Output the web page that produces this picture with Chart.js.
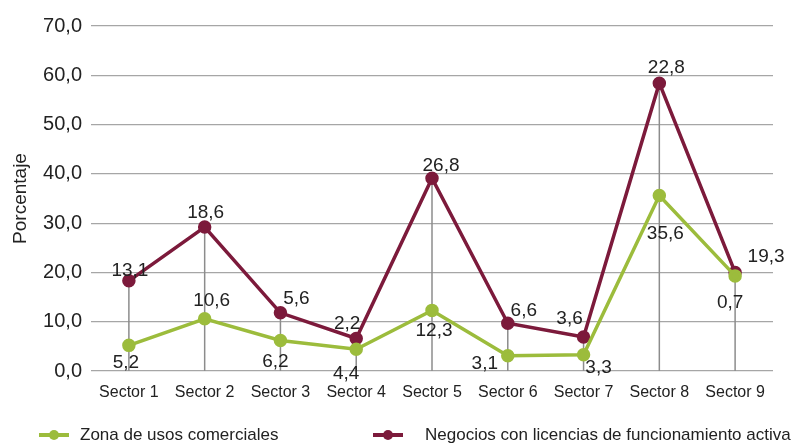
<!DOCTYPE html>
<html>
<head>
<meta charset="utf-8">
<script src="https://cdn.jsdelivr.net/npm/chart.js@4.4.0/dist/chart.umd.min.js"></script>
<style>
    body { margin: 0; background: #fff; }
    #wrap { position: relative; width: 793px; height: 446px; }
    #legend { position: absolute; left: 0; top: 424px; width: 793px; height: 22px;
        font-family: "Liberation Sans", Arial, sans-serif; font-size: 17px; color: #222; }
    .item { position: absolute; top: 0; height: 22px; line-height: 22px; white-space: nowrap; }
    .mark { position: absolute; top: 9px; width: 30px; height: 4px; }
    .mark span { position: absolute; left: 10px; top: -3px; width: 10px; height: 10px; border-radius: 50%; }
</style>
</head>
<body>
<div id="wrap">
    <canvas id="chart" width="793" height="446"></canvas>
    <div id="legend">
        <div class="mark" style="left:39px;background:#9cbc3c"><span style="background:#9cbc3c"></span></div>
        <div class="item" style="left:80px">Zona de usos comerciales</div>
        <div class="mark" style="left:373px;background:#7c1a3b"><span style="background:#7c1a3b"></span></div>
        <div class="item" style="left:425px">Negocios con licencias de funcionamiento activa</div>
    </div>
</div>
<script>
//Data
let sectors = ['Sector 1', 'Sector 2', 'Sector 3', 'Sector 4', 'Sector 5', 'Sector 6', 'Sector 7', 'Sector 8', 'Sector 9'];
let zonaComercial = [5.2, 10.6, 6.2, 4.4, 12.3, 3.1, 3.3, 35.6, 19.3];
let negociosActivos = [13.1, 18.6, 5.6, 2.2, 26.8, 6.6, 3.6, 22.8, 0.7];

//Colors
let green = '#9cbc3c';
let maroon = '#7c1a3b';

//label offsets (px) from each point, per dataset
let labelOffsets = [
    {dx: [-3, 7, -5, -10, 2, -23, 15, 6, 31], dy: [17, -18, 21, 24, 20, 8, 13, 38, -19]},
    {dx: [1, 1, 16, -9, 9, 16, -14, 7, -5], dy: [-10, -14, -14, -15, -13, -12, -18, -15, 30]}
];

function fmt(v) {
    return v.toFixed(1).replace('.', ',');
}

// grey drop lines from the highest point down to the axis
const dropLines = {
    id: 'dropLines',
    beforeDatasetsDraw(chart) {
        let ctx = chart.ctx;
        let bottom = chart.chartArea.bottom;
        let metas = [chart.getDatasetMeta(0), chart.getDatasetMeta(1)];
        ctx.save();
        ctx.strokeStyle = '#8c8c8c';
        ctx.lineWidth = 1.5;
        metas[0].data.forEach(function (pt, i) {
            let top = Math.min(pt.y, metas[1].data[i].y);
            ctx.beginPath();
            ctx.moveTo(pt.x, top);
            ctx.lineTo(pt.x, bottom);
            ctx.stroke();
        });
        ctx.restore();
    }
};

const valueLabels = {
    id: 'valueLabels',
    afterDatasetsDraw(chart) {
        let ctx = chart.ctx;
        ctx.save();
        ctx.font = '19px "Liberation Sans", Arial, sans-serif';
        ctx.fillStyle = '#222';
        ctx.textAlign = 'center';
        ctx.textBaseline = 'middle';
        chart.data.datasets.forEach(function (ds, d) {
            chart.getDatasetMeta(d).data.forEach(function (pt, i) {
                let off = labelOffsets[d];
                ctx.fillText(fmt(ds.data[i]), pt.x + off.dx[i], pt.y + off.dy[i]);
            });
        });
        ctx.restore();
    }
};

new Chart(document.getElementById('chart').getContext('2d'), {
    type: 'line',
    data: {
        labels: sectors,
        datasets: [{
            label: 'Zona de usos comerciales',
            data: zonaComercial,
            borderColor: green,
            backgroundColor: green,
            borderWidth: 3.5,
            pointRadius: 5,
            pointHoverRadius: 5,
            tension: 0
        }, {
            label: 'Negocios con licencias de funcionamiento activa',
            data: negociosActivos,
            borderColor: maroon,
            backgroundColor: maroon,
            borderWidth: 3.5,
            pointRadius: 5,
            pointHoverRadius: 5,
            tension: 0
        }]
    },
    options: {
        responsive: false,
        animation: false,
        layout: {padding: {top: 26, right: 20, bottom: 45, left: 9}},
        plugins: {
            legend: {display: false},
            tooltip: {enabled: false}
        },
        scales: {
            x: {
                stacked: true,
                offset: true,
                grid: {display: false},
                border: {display: false},
                ticks: {
                    color: '#222',
                    padding: 4,
                    maxRotation: 0,
                    font: {family: '"Liberation Sans", Arial, sans-serif', size: 16}
                },
                afterFit(scale) { scale.height = 30; }
            },
            y: {
                stacked: true,
                min: 0,
                max: 70,
                grid: {color: '#a6a6a6', lineWidth: 1.2, drawTicks: false},
                border: {display: false},
                ticks: {
                    stepSize: 10,
                    color: '#222',
                    padding: 9,
                    font: {family: '"Liberation Sans", Arial, sans-serif', size: 20},
                    callback: function (v) { return fmt(v); }
                },
                title: {
                    display: true,
                    text: 'Porcentaje',
                    color: '#222',
                    padding: {top: 0, bottom: 2},
                    font: {family: '"Liberation Sans", Arial, sans-serif', size: 19}
                },
                afterFit(scale) { scale.width = 82; }
            }
        }
    },
    plugins: [dropLines, valueLabels]
});
</script>
</body>
</html>
